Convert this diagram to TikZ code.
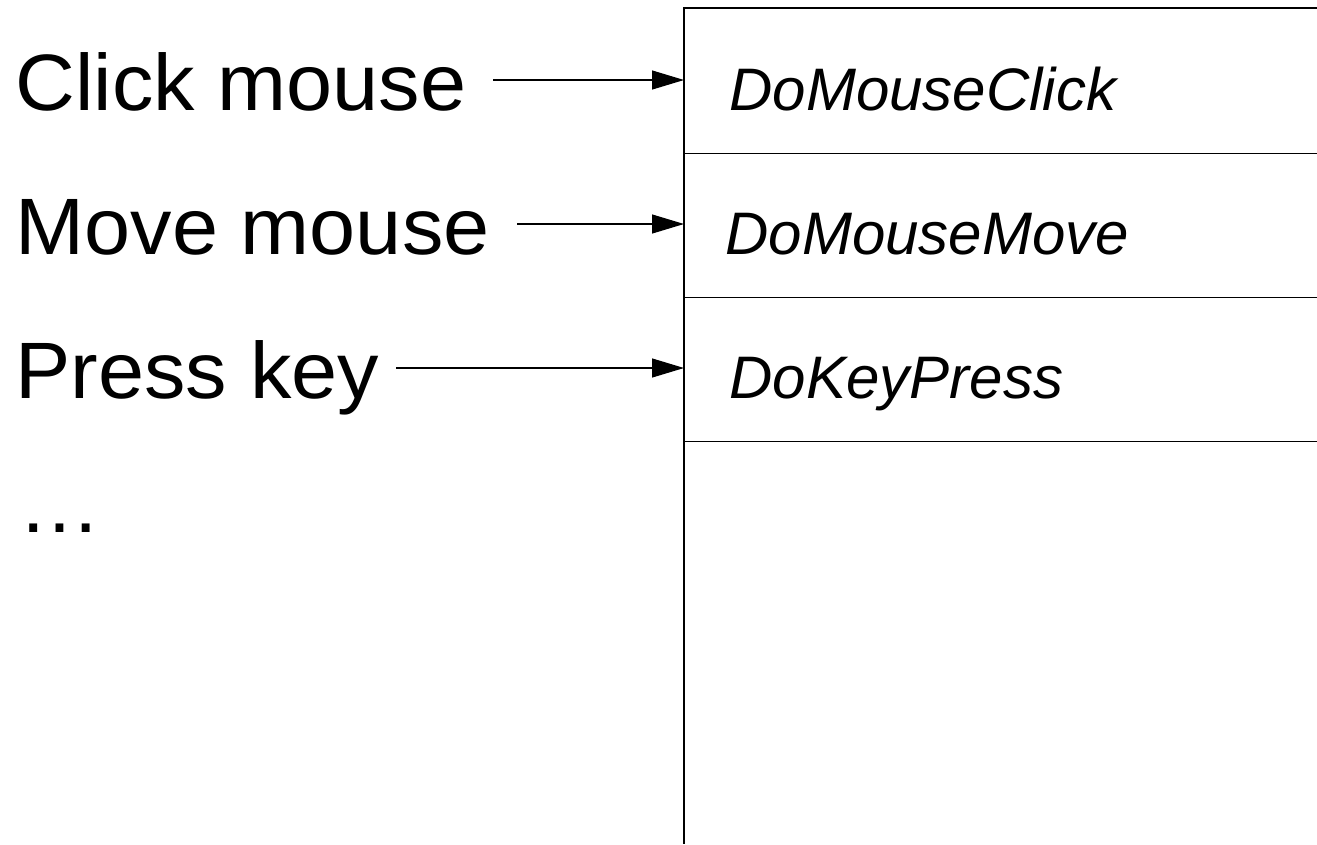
\documentclass[tikz,border=0pt]{standalone}
\usepackage{fontspec}
\setmainfont{Liberation Sans}
\newfontfamily\lblfont[FakeStretch=1.035]{Liberation Sans}
\usetikzlibrary{arrows.meta}
\begin{document}
\begin{tikzpicture}[x=1pt,y=-1pt,
  line width=1.2pt,
  evlabel/.style={anchor=base west,inner sep=0pt,font=\lblfont\fontsize{80}{96}\selectfont},
  cell/.style={anchor=north west,minimum width=633pt,minimum height=144pt,inner sep=0pt},
  celltext/.style={anchor=base west,inner sep=0pt,font=\fontsize{60}{72}\selectfont\itshape},
  arr/.style={-{Triangle[length=32pt,width=19pt]},line width=1.2pt}]
\useasboundingbox (0,0) rectangle (1317,844);
% cells
\node[cell] (c1) at (684,8) {};
\node[cell] (c2) at (684,152) {};
\node[cell] (c3) at (684,296) {};
\coordinate (bot) at (684,844);
\draw (c1.north east) -- (c1.north west) -- (bot);
\draw (c1.south west) -- (c1.south east);
\draw (c2.south west) -- (c2.south east);
\draw (c3.south west) -- (c3.south east);
% cell texts
\node[celltext] (t1) at (729,110) {DoMouseClick};
\node[celltext] (t2) at (725,254) {DoMouseMove};
\node[celltext] (t3) at (729,398) {DoKeyPress};
% event labels
\node[evlabel] (l1) at (15,110) {Click mouse};
\node[evlabel] (l2) at (15,254) {Move mouse};
\node[evlabel] (l3) at (15,398) {Press key};
\node[evlabel] (l4) at (18,532) {…};
% arrows
\coordinate (a1) at (493,80);
\coordinate (a2) at (517,224);
\coordinate (a3) at (396,368);
\draw[arr] (a1) -- (a1 -| c1.west);
\draw[arr] (a2) -- (a2 -| c2.west);
\draw[arr] (a3) -- (a3 -| c3.west);
\end{tikzpicture}
\end{document}
